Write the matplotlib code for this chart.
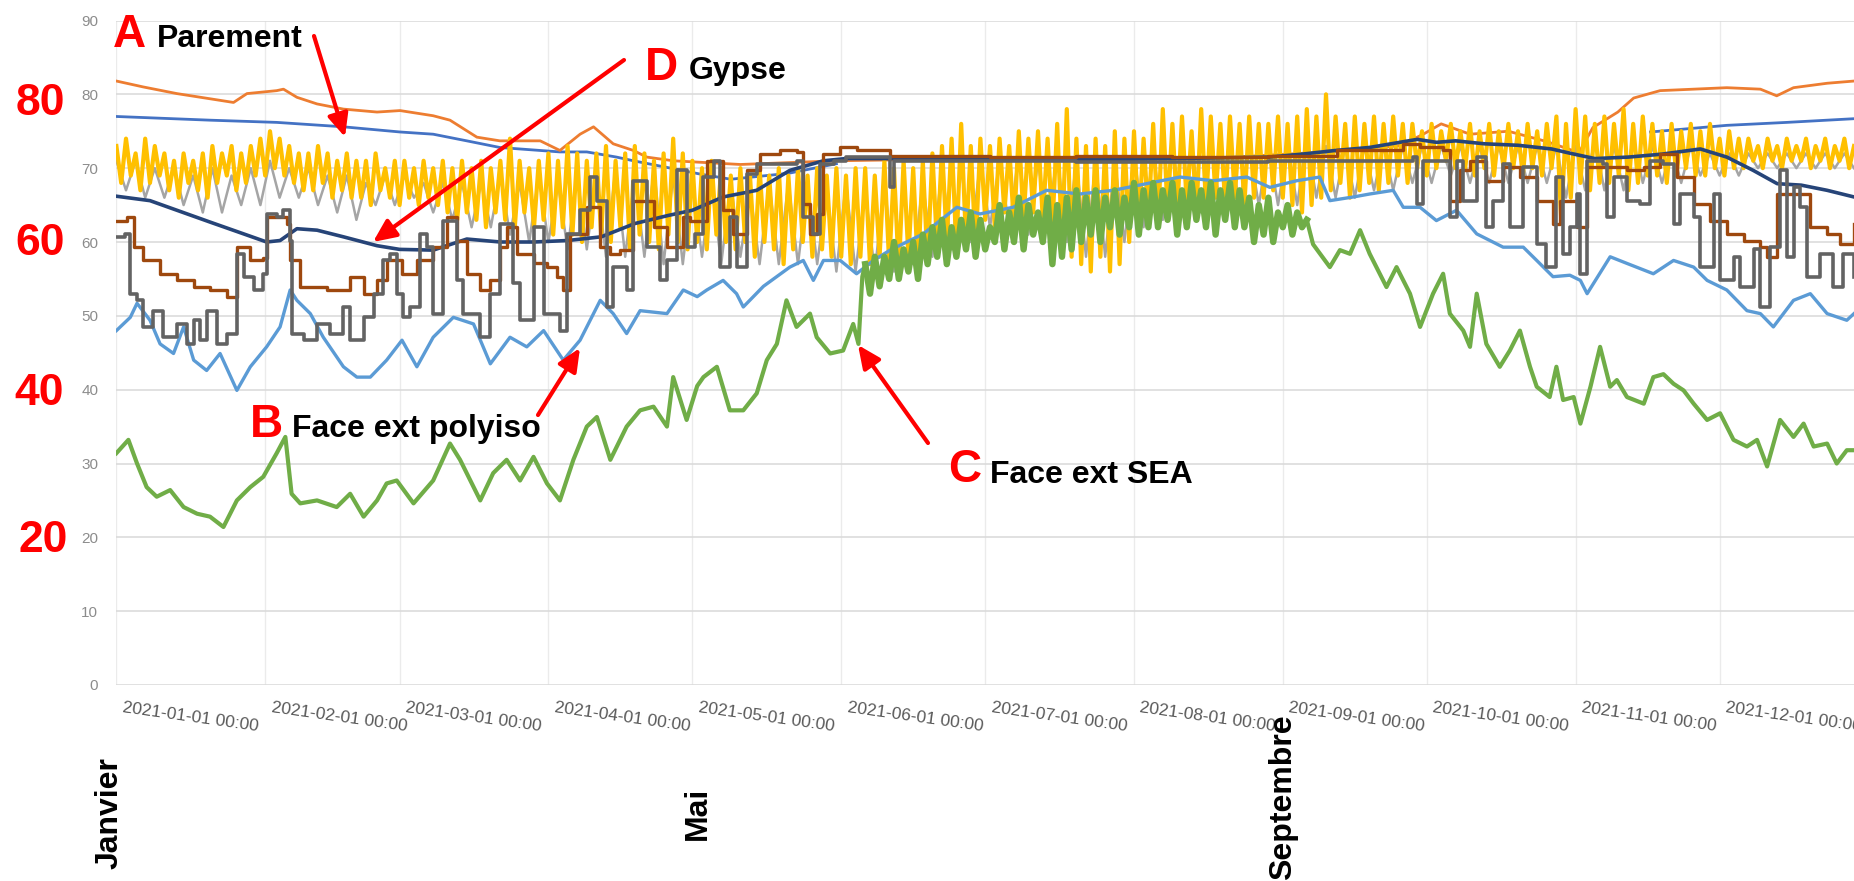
import matplotlib
matplotlib.use("Agg")
import matplotlib.pyplot as plt
from matplotlib.patches import FancyArrowPatch
from matplotlib.transforms import ScaledTranslation, blended_transform_factory

plt.rcParams['font.family'] = ['Liberation Sans', 'DejaVu Sans']

W, H, DPI = 1854, 881, 100
NAN = float('nan')

# ---------------- data ----------------
MONTH_DAYS = [0, 31, 59, 90, 120, 151, 181, 212, 243, 273, 304, 334]
MONTH_LABELS = ['2021-01-01 00:00', '2021-02-01 00:00', '2021-03-01 00:00', '2021-04-01 00:00',
                '2021-05-01 00:00', '2021-06-01 00:00', '2021-07-01 00:00', '2021-08-01 00:00',
                '2021-09-01 00:00', '2021-10-01 00:00', '2021-11-01 00:00', '2021-12-01 00:00']
Y_TICKS = [0, 10, 20, 30, 40, 50, 60, 70, 80, 90]

ORANGE_DAYS = [0, 5.6, 12.6, 19.5, 24.4, 27.2, 33.4, 34.8, 37.6, 41.8, 47.3, 54.3, 59.1, 66, 69.5, 75.1,
               79.9, 88.3, 92.4, 96.6, 99.4, 103.5, 107.7, 110.5, 116, 130, 150, 170, 200, 230, 255, 262,
               267, 272, 276, 282, 290, 298, 304.7, 307.6, 312.8, 316.1, 321.6, 328.6, 335.5, 342.5, 345.9,
               349.4, 356.4, 362]
ORANGE_VALS = [81.8, 81.0, 80.1, 79.4, 78.9, 80.1, 80.5, 80.7, 79.6, 78.7, 78.0, 77.6, 77.8, 77.1, 76.5, 74.2,
               73.7, 73.7, 72.4, 74.6, 75.6, 73.3, 72.4, 71.5, 71.0, 70.5, 71.0, 71.2, 71.2, 71.4, 72.3, 72.8,
               73.0, 74.5, 76.0, 74.6, 75.0, 73.6, 72.1, 75.5, 77.6, 79.5, 80.5, 80.7, 80.9, 80.7, 79.8,
               80.9, 81.5, 81.8]

# no readings visible between late May and mid-November
BLUE_DAYS = [0, 19.5, 33.4, 47.3, 59.1, 66, 73, 79.9, 92.4, 98, 104.2, 107.7, 114.7, 121.6, 128, 140, 150,
             200, 319.6, 335.5, 348, 362]
BLUE_VALS = [77.0, 76.5, 76.2, 75.6, 74.9, 74.6, 73.7, 72.8, 72.2, 72.2, 71.5, 71.0, 70.1, 69.2, 68.5, 69.3, 70.6,
             NAN, 74.9, 75.8, 76.2, 76.7]

NAVY_DAYS = [0, 7, 12.6, 19.5, 26.5, 31.3, 34.1, 37.6, 41.8, 47.3, 54.3, 59, 66, 73, 80, 87, 94, 101, 108, 115,
             120, 126.4, 133.4, 140.3, 147.3, 152, 165, 185, 210, 240, 247, 254, 261, 271, 275, 279, 285, 292,
             299, 303, 308, 315, 322, 330, 335.5, 341, 346, 351, 356.4, 362]
NAVY_VALS = [66.2, 65.6, 64.3, 62.7, 61.1, 60.0, 60.2, 61.8, 61.6, 60.7, 59.5, 59.0, 58.9, 60.4, 60.0, 60.0, 60.2,
             60.7, 62.5, 63.6, 64.3, 66.1, 67.0, 69.7, 71.0, 71.3, 71.3, 71.1, 71.2, 71.5, 71.9, 72.4, 72.8, 73.9,
             73.5, 73.7, 73.3, 73.1, 72.6, 72.0, 71.3, 71.5, 71.9, 72.6, 71.5, 69.7, 67.9, 67.7, 67.0, 66.1]

BROWN_DAYS = [0, 2.2, 3.6, 5.6, 9.1, 12.6, 16.1, 19.5, 23.0, 25.1, 27.9, 30.6, 31.3, 35.5, 36.2, 38.3, 43.8, 48.7,
              51.5, 54.3, 56.3, 59.5, 62.6, 66.0, 68.8, 70.9, 73.0, 75.8, 77.9, 79.9, 81.3, 83.4, 86.9, 89.7,
              91.7, 93.1, 94.5, 98.0, 100.8, 102.9, 104.9, 107.7, 111.9, 114.7, 118.1, 119.5, 123.0, 125.1,
              126.4, 128.5, 131.3, 134.1, 138.3, 141.7, 143.1, 144.5, 145.9, 147.3, 150.8, 154.2, 161.2, 182,
              200, 220, 240, 254.2, 268.1, 271.6, 276.4, 277.8, 279.9, 282.0, 285.4, 288.9, 292.4, 295.9,
              299.3, 300.8, 304.3, 306.4, 311.2, 314.7, 318.2, 321.6, 325.1, 328.6, 332.1, 335.5, 339.0,
              342.5, 343.9, 346.0, 350.8, 352.9, 356.4, 359.1, 362]
BROWN_VALS = [62.9, 63.4, 59.3, 57.5, 55.7, 54.8, 53.9, 53.5, 52.6, 59.3, 57.5, 57.9, 63.4, 62.5, 57.5, 53.9, 53.5,
              55.3, 53.0, 54.8, 57.5, 55.7, 57.5, 59.3, 63.4, 60.2, 55.7, 53.5, 54.8, 59.3, 62.0, 58.4, 57.1,
              56.6, 55.3, 53.5, 61.1, 64.7, 59.3, 58.4, 58.9, 65.6, 62.0, 59.3, 63.4, 62.9, 71.0, 71.0, 64.3,
              61.1, 69.7, 71.9, 72.4, 72.2, 65.2, 61.1, 63.8, 71.9, 72.8, 72.4, 71.7, 71.5, 71.6, 71.5, 71.7,
              72.4, 73.3, 72.8, 72.4, 65.6, 69.7, 71.0, 68.3, 70.1, 68.8, 65.6, 62.5, 65.6, 62.0, 70.1, 70.1,
              69.7, 70.1, 71.9, 68.8, 65.2, 62.9, 61.1, 60.2, 59.3, 58.0, 66.5, 66.5, 62.0, 61.1, 59.7, 62.5]

DGRAY_PTS = [(0, 60.7), (1.8, 61.1), (2.9, 53.0), (4.3, 52.1), (5.6, 48.5), (7.7, 50.7), (9.8, 47.1),
             (12.6, 48.9), (14.7, 46.2), (16.1, 49.4), (17.5, 46.7), (18.8, 50.7), (20.9, 46.2), (23.0, 47.6),
             (25.1, 58.4), (26.5, 55.3), (28.6, 53.5), (30.6, 55.7), (31.3, 63.8), (33.4, 63.4), (34.8, 64.3),
             (36.2, 60.2), (36.5, 47.6), (39.0, 46.7), (41.8, 48.9), (44.5, 47.6), (47.3, 51.2), (48.7, 46.7),
             (51.5, 49.8), (53.6, 53.0), (55.6, 57.5), (57.0, 58.4), (58.4, 53.0), (59.8, 49.8),
             (61.2, 51.2), (63.3, 61.1), (64.7, 59.3), (66.0, 50.3), (68.1, 62.9), (70.9, 54.8), (72.3, 50.3),
             (75.8, 47.1), (77.9, 53.0), (79.9, 62.5), (82.7, 54.4), (84.1, 49.4), (86.9, 62.0), (89.0, 50.3),
             (92.4, 48.0), (93.8, 61.1), (96.6, 64.3), (98.7, 68.8), (100.1, 65.6), (102.2, 51.2),
             (103.5, 56.6), (106.3, 53.5), (107.7, 68.3), (110.5, 59.3), (113.3, 54.8), (114.7, 57.5),
             (116.7, 69.7), (118.8, 59.3),
             (120.5, 61.1), (122.3, 68.8), (124.4, 71.0), (125.7, 56.6), (127.8, 63.4), (129.2, 56.6),
             (131.3, 69.2), (133.4, 70.6), (141.7, 71.0), (143.1, 63.4), (145.2, 61.1), (146.6, 70.6),
             (149.4, 71.0), (152.1, 71.5), (161.2, 67.4), (162.0, 71.0), (182, 71.0), (200, 70.9),
             (220, 70.8), (240, 71.0),
             (264.6, 71.0), (270.2, 71.5), (270.9, 65.2), (272.2, 71.0), (277.8, 63.4), (279.2, 71.0),
             (280.6, 65.6), (283.4, 71.5), (285.4, 62.0), (286.8, 65.6), (288.9, 70.6), (290.3, 62.0),
             (293.1, 70.1), (295.9, 59.7), (297.9, 56.6), (300.0, 68.8), (301.4, 58.4), (302.9, 62.0),
             (304.3, 66.5), (305.0, 55.7), (306.4, 71.0), (309.8, 70.6), (310.5, 63.4), (311.9, 68.8),
             (314.7, 65.6), (317.5, 65.2), (319.6, 71.0), (322.3, 70.6), (324.4, 62.5), (325.8, 66.5),
             (328.6, 63.4), (330.0, 56.6), (332.8, 66.5), (334.1, 54.8), (336.9, 58.0), (338.3, 53.9),
             (341.1, 59.0), (342.5, 51.2), (344.5, 59.3), (346.6, 69.7), (348.0, 58.0), (349.4, 67.4),
             (350.8, 64.7), (352.2, 55.3), (355.0, 58.4), (357.7, 53.9), (359.8, 58.4), (362, 55.3)]

LBLUE_PTS = [(0, 48.0), (2.9, 49.8), (4.3, 51.7), (7.0, 49.4), (9.1, 46.2), (11.9, 44.9), (14.0, 48.5),
             (16.1, 44.0), (18.8, 42.6), (21.6, 44.9), (25.1, 39.9), (27.9, 43.1), (31.3, 45.8), (34.1, 48.5),
             (36.2, 53.5), (37.6, 52.1), (40.4, 50.3), (43.1, 47.1), (47.3, 43.1), (50.1, 41.7), (52.9, 41.7),
             (56.3, 44.0), (59.5, 46.7), (62.6, 43.1), (66.0, 47.1), (70.2, 49.8), (74.4, 48.9), (77.9, 43.5),
             (82.0, 47.1), (85.5, 45.8), (89.0, 48.0), (93.1, 44.0), (96.6, 46.7), (100.8, 52.1),
             (103.5, 50.3), (106.3, 47.6), (109.1, 50.7), (114.7, 50.3), (118.1, 53.5), (121.0, 52.6),
             (123, 53.5), (126.4, 54.8), (129.2, 53.0), (130.6, 51.2), (134.8, 54.0), (140.3, 56.6),
             (143.1, 57.5), (145.2, 54.8), (147.3, 57.5), (150.8, 57.5), (154.2, 55.7), (157.7, 57.5),
             (161.2, 58.9), (168.1, 61.1), (175.1, 64.7), (179.9, 63.8), (186.8, 64.7), (193.8, 67.0),
             (200.7, 66.5), (207.7, 67.0), (214.6, 67.9), (221.6, 68.8), (228.5, 68.3), (235.5, 68.8),
             (240.3, 67.4), (245.9, 68.3), (250.7, 68.8), (252.8, 65.6), (257.7, 66.1), (261.1, 66.5),
             (266.0, 67.0), (268.1, 64.7), (271.6, 64.7), (275.0, 62.9), (279.2, 64.3), (283.4, 61.1),
             (288.9, 59.3), (293.1, 59.3), (295.9, 57.5), (299.3, 55.3), (302.8, 55.5), (305.0, 54.8),
             (306.4, 53.0), (311.2, 58.0), (314.7, 57.1), (320.2, 55.7), (324.4, 57.5), (328.6, 56.6),
             (331.4, 54.8), (335.5, 53.5), (339.7, 50.7), (342.5, 50.3), (345.2, 48.5), (349.4, 52.1),
             (352.9, 53.0), (356.4, 50.3), (360.5, 49.4), (362, 50.3)]

GREEN_EARLY = [(0, 31.4), (2.5, 33.2), (4.3, 30.0), (6.3, 26.8), (8.4, 25.5), (11.2, 26.4), (14.0, 24.1),
               (16.8, 23.2), (19.5, 22.8), (22.3, 21.4), (25.1, 25.0), (27.9, 26.8), (30.6, 28.2), (33.4, 31.4),
               (35.2, 33.6), (36.5, 25.9), (38.3, 24.6), (41.8, 25.0), (45.9, 24.1), (48.7, 25.9), (51.5, 22.8),
               (54.3, 25.0), (56.3, 27.3), (58.4, 27.7), (61.9, 24.6), (66.0, 27.7), (69.5, 32.7), (71.6, 30.5),
               (75.8, 25.0), (78.5, 28.7), (81.3, 30.5), (84.1, 27.7), (86.9, 30.9), (89.7, 27.3), (92.4, 25.0),
               (95.2, 30.5), (98.0, 35.0), (100.1, 36.3), (102.9, 30.5), (106.3, 35.0), (109.1, 37.2),
               (111.9, 37.7), (114.7, 35.0), (116.0, 41.7), (118.8, 35.9), (121.0, 40.5), (122.3, 41.7),
               (125.1, 43.1), (127.8, 37.2), (130.6, 37.2), (133.4, 39.5), (135.5, 44.0), (137.6, 46.2),
               (139.6, 52.1), (141.7, 48.5), (144.5, 50.3), (145.9, 47.1), (148.7, 44.9), (151.4, 45.3),
               (153.5, 48.9), (154.6, 46.2), (155.4, 55.3)]
# daily readings, days 156..248
GREEN_SUMMER_START = 156
GREEN_SUMMER = [57, 53, 58, 54, 58, 55,
                60, 55, 59, 56, 60, 55, 61,
                57, 62, 58, 63, 57, 62, 58,
                63, 59, 64, 58, 63, 59, 62,
                60, 65, 59, 64, 60, 66, 59, 65, 61, 64, 60,
                66, 57, 65, 58, 66, 59, 67, 60,
                66, 61, 67, 60, 66, 62, 67, 61, 66, 62, 68, 61, 67,
                62, 68, 62, 67, 63, 68, 61, 67, 62, 68, 63, 67, 62, 68, 61, 67, 63, 68, 62, 67, 62,
                66, 60, 65, 61, 66, 60, 64, 62, 65, 61, 64, 62, 63]
GREEN_LATE = [(249.3, 59.7), (252.8, 56.6), (254.9, 58.9), (257.0, 58.4), (259.1, 61.6), (261.1, 58.4),
              (264.6, 53.9), (266.7, 56.6), (269.5, 53.0), (271.6, 48.5), (274.3, 53.0), (276.4, 55.7),
              (277.8, 50.3), (280.6, 48.0), (282.0, 45.8), (283.4, 53.0), (285.4, 46.2), (288.2, 43.1),
              (290.3, 45.3), (292.4, 48.0), (294.5, 43.1), (295.9, 40.4), (298.6, 39.0), (300.0, 43.1),
              (301.4, 38.6), (303.6, 39.0), (305.0, 35.4), (307.1, 40.4), (309.1, 45.8), (311.2, 40.4),
              (312.6, 41.3), (314.7, 39.0), (318.2, 38.1), (320.2, 41.7), (322.3, 42.1), (324.4, 40.8),
              (326.5, 39.9), (328.6, 38.1), (331.4, 35.9), (334.1, 36.8), (336.9, 33.2), (339.7, 32.3),
              (341.8, 33.2), (343.9, 29.6), (346.6, 35.9), (349.4, 33.6), (351.5, 35.4), (353.6, 32.3),
              (356.4, 32.7), (358.4, 30.0), (360.5, 31.8), (362, 31.8)]

# daily readings (day 0 .. 362)
GOLD_VALS = [73, 68, 74, 69, 72, 67, 74, 68, 73, 69,
             72, 67, 71, 66, 72, 68, 71, 67, 72, 66,
             73, 68, 72, 69, 73, 67, 72, 68, 73, 69,
             74, 69, 75, 70, 74, 69, 73, 68, 72, 67,
             72, 67, 73, 68, 72, 66, 71, 67, 72, 66,
             71, 66, 71, 65, 72, 67, 70, 66, 71, 65,
             71, 66, 70, 65, 71, 66, 70, 65, 71, 64,
             70, 63, 71, 64, 70, 63, 71, 62, 70, 64,
             71, 63, 74, 62, 71, 64, 70, 62, 71, 63,
             72, 61, 71, 62, 73, 61, 72, 60, 71, 62,
             72, 61, 73, 60, 71, 62, 72, 59, 73, 61,
             72, 60, 71, 59, 72, 61, 74, 60, 72, 59,
             71, 60, 70, 59, 71, 61, 70, 60, 69, 59,
             70, 60, 69, 58, 70, 60, 69, 59, 70, 57,
             69, 59, 70, 60, 69, 58, 70, 59, 69, 58,
             70, 58, 69, 57, 70, 58, 70, 57, 69, 58,
             71, 57, 70, 56, 71, 58, 70, 56, 71, 57,
             72, 59, 73, 60, 74, 59, 76, 60, 73, 59,
             74, 63, 73, 62, 74, 64, 73, 62, 75, 63,
             74, 64, 75, 63, 74, 62, 76, 60, 78, 58,
             74, 57, 73, 56, 74, 58, 73, 56, 75, 57,
             74, 60, 75, 62, 74, 63, 76, 62, 78, 64,
             76, 64, 77, 65, 75, 64, 78, 65, 77, 66,
             76, 65, 77, 66, 76, 65, 77, 66, 76, 66,
             76, 67, 77, 66, 76, 65, 77, 64, 78, 65,
             77, 66, 80, 67, 77, 68, 76, 66, 77, 67,
             76, 68, 77, 67, 76, 68, 77, 69, 76, 68,
             76, 70, 75, 69, 76, 70, 75, 71, 76, 70,
             75, 70, 76, 69, 75, 70, 76, 69, 75, 70,
             76, 70, 75, 69, 76, 70, 75, 69, 76, 70,
             77, 63, 76, 66, 78, 68, 77, 67, 76, 68,
             77, 68, 76, 69, 78, 67, 76, 68, 77, 69,
             76, 69, 75, 68, 76, 69, 75, 70, 76, 69,
             75, 69, 76, 70, 74, 69, 75, 70, 74, 70,
             74, 71, 73, 70, 74, 71, 73, 70, 74, 71,
             73, 71, 74, 70, 73, 71, 74, 70, 73, 71,
             74, 70, 73]

# readings every 2 days (day 0, 2, ..., 362)
GRAY_VALS = [71, 67, 71, 66, 70, 66, 70, 65, 69, 64,
             70, 64, 69, 65, 70, 65, 71, 66, 70, 66,
             70, 65, 69, 64, 69, 63, 68, 65, 69, 65,
             69, 66, 68, 64, 68, 63, 68, 62, 68, 62,
             69, 61, 68, 60, 69, 60, 68, 59, 69, 59,
             69, 58, 70, 58, 69, 58, 70, 57, 69, 57,
             68, 58, 68, 57, 68, 58, 67, 57, 68, 57,
             68, 57, 68, 57, 67, 56, 68, 56, 67, 56,
             68, 56, 67, 57, 68, 58, 70, 59, 70, 60,
             71, 62, 71, 62, 72, 61, 71, 62, 72, 60,
             71, 58, 71, 58, 71, 60, 72, 62, 72, 63,
             73, 64, 73, 64, 73, 65, 73, 65, 73, 65,
             73, 65, 73, 65, 74, 66, 73, 66, 73, 66,
             73, 67, 73, 67, 73, 68, 73, 68, 73, 69,
             73, 68, 73, 68, 73, 68, 73, 68, 73, 68,
             73, 66, 73, 67, 74, 67, 73, 67, 74, 68,
             73, 68, 73, 68, 73, 69, 72, 69, 72, 69,
             72, 70, 72, 70, 72, 70, 72, 70, 72, 70,
             72, 70]

# ---------------- figure ----------------
fig = plt.figure(figsize=(W / DPI, H / DPI), dpi=DPI)
fig.patch.set_facecolor('white')
ax = fig.add_axes([116.4 / W, (H - 685) / H, (W - 116.4) / W, 664.5 / H])

gold_days = list(range(0, len(GOLD_VALS)))
gray_days = list(range(0, 2 * len(GRAY_VALS), 2))
dg_d, dg_v = zip(*DGRAY_PTS)
lb_d, lb_v = zip(*LBLUE_PTS)
ge_d, ge_v = zip(*GREEN_EARLY)
gl_d, gl_v = zip(*GREEN_LATE)
gs_d = list(range(GREEN_SUMMER_START, GREEN_SUMMER_START + len(GREEN_SUMMER)))

ax.plot(BLUE_DAYS, BLUE_VALS, color='#4472C4', lw=2.0, zorder=2)
ax.plot(ORANGE_DAYS, ORANGE_VALS, color='#ED7D31', lw=2.0, zorder=3)
ax.plot(gray_days, GRAY_VALS, color='#A5A5A5', lw=1.8, zorder=4)
ax.plot(gold_days, GOLD_VALS, color='#FFC000', lw=3.0, zorder=5)
ax.plot(lb_d, lb_v, color='#5B9BD5', lw=2.4, zorder=6)
# green: the summer part is a dense daily oscillation and renders as a thick ribbon
ax.plot(list(ge_d) + gs_d[:1], list(ge_v) + GREEN_SUMMER[:1], color='#70AD47', lw=3.0, zorder=7)
ax.plot(gs_d, GREEN_SUMMER, color='#70AD47', lw=4.6, zorder=7)
ax.plot(gs_d[-1:] + list(gl_d), GREEN_SUMMER[-1:] + list(gl_v), color='#70AD47', lw=3.0, zorder=7)
ax.plot(NAVY_DAYS, NAVY_VALS, color='#264478', lw=2.6, zorder=8)
ax.plot(BROWN_DAYS, BROWN_VALS, color='#9E480E', lw=2.4, zorder=9, drawstyle='steps-post')
ax.plot(dg_d, dg_v, color='#636363', lw=2.6, zorder=10, drawstyle='steps-post')

ax.set_xlim(0, 362)
ax.set_ylim(0, 90)
ax.set_yticks(Y_TICKS)
ax.set_xticks(MONTH_DAYS)
ax.set_xticklabels([])
ax.tick_params(axis='x', length=0)
ax.tick_params(axis='y', length=0, pad=13, labelsize=11, labelcolor='#8C8C8C')
ax.grid(axis='y', color='#D9D9D9', lw=1.1)
ax.grid(axis='x', color='#EBEBEB', lw=1.0)
ax.set_axisbelow(True)
for s in ax.spines.values():
    s.set_visible(False)

lab_tr = blended_transform_factory(ax.transData, ax.transAxes) + ScaledTranslation(7 / DPI, -15 / DPI,
                                                                                     fig.dpi_scale_trans)
for d, lab in zip(MONTH_DAYS, MONTH_LABELS):
    ax.text(d, 0, lab, transform=lab_tr, rotation=-8, rotation_mode='anchor', ha='left', va='top',
            fontsize=12.5, color='#595959', clip_on=False)


def fx(x):
    return x / W


def fy(y):
    return 1 - y / H


RED = '#FF0000'
for lab, xc, yb in [('80', 40, 115), ('60', 40, 255), ('40', 39, 405), ('20', 43, 552)]:
    fig.text(fx(xc), fy(yb), lab, color=RED, fontsize=32, fontweight='bold', ha='center', va='baseline')

notes = [('A', 113, 47, 'Parement', 157, 47),
         ('D', 645, 80, 'Gypse', 689, 79),
         ('B', 250, 437, 'Face ext polyiso', 292, 437),
         ('C', 948, 482, 'Face ext SEA', 990, 483)]
for letter, lx, ly, name, nx, ny in notes:
    fig.text(fx(lx), fy(ly), letter, color=RED, fontsize=33, fontweight='bold', ha='left', va='baseline')
    fig.text(fx(nx), fy(ny), name, color='black', fontsize=23, fontweight='bold', ha='left', va='baseline')

arrows = [((314, 36), (345, 137)),
          ((624, 60), (373, 242)),
          ((538, 415), (580, 348)),
          ((928, 443), (858, 345))]
for (x1, y1), (x2, y2) in arrows:
    fig.add_artist(FancyArrowPatch((fx(x1), fy(y1)), (fx(x2), fy(y2)), transform=fig.transFigure,
                                   arrowstyle='-|>,head_length=0.55,head_width=0.25', mutation_scale=25,
                                   lw=3.0, color=RED, shrinkA=0, shrinkB=0, zorder=20))

for lab, xc, yb in [('Janvier', 110, 869), ('Mai', 698, 840), ('Septembre', 1283, 880)]:
    fig.text(fx(xc), fy(yb), lab, rotation=90, ha='center', va='bottom', fontsize=23, fontweight='bold',
             color='black')

fig.savefig('out.png', dpi=DPI)
